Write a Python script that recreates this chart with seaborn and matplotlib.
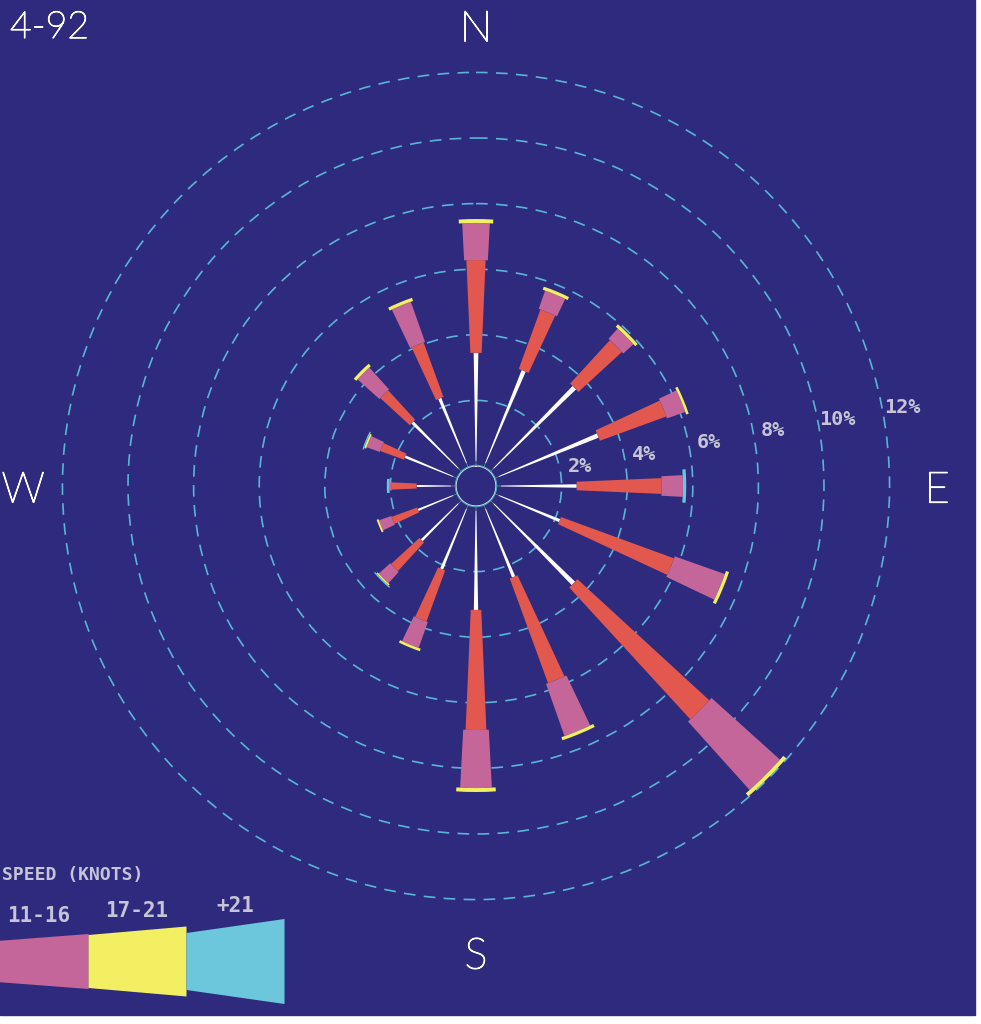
import numpy as np
import matplotlib.pyplot as plt
import matplotlib.patheffects as pe
from matplotlib.patches import Rectangle
from matplotlib.transforms import offset_copy
import seaborn as sns

# wind rose, frequency (%) per speed class for 16 compass points
directions = ['N', 'NNE', 'NE', 'ENE', 'E', 'ESE', 'SE', 'SSE',
              'S', 'SSW', 'SW', 'WSW', 'W', 'WNW', 'NW', 'NNW']
speed_1_3 = [0.15, 0.15, 0.15, 0.15, 0.15, 0.15, 0.15, 0.15,
             0.15, 0.15, 0.15, 0.15, 0.15, 0.15, 0.15, 0.15]
speed_4_6 = [3.30, 3.04, 3.48, 3.26, 2.31, 2.00, 3.44, 2.24,
             3.02, 1.98, 1.58, 1.15, 1.05, 1.58, 1.98, 2.13]
speed_7_10 = [2.83, 1.93, 1.80, 2.16, 2.59, 3.67, 5.46, 3.40,
              3.66, 1.66, 1.18, 0.83, 0.76, 0.77, 1.22, 1.77]
speed_11_16 = [1.13, 0.59, 0.42, 0.59, 0.65, 1.62, 2.81, 1.69,
               1.77, 0.84, 0.47, 0.40, 0.07, 0.43, 0.90, 1.30]
speed_17_21 = [0.12, 0.10, 0.10, 0.08, 0.00, 0.10, 0.12, 0.10,
               0.12, 0.08, 0.05, 0.06, 0.00, 0.06, 0.10, 0.10]
speed_21_up = [0.00, 0.00, 0.00, 0.00, 0.10, 0.00, 0.00, 0.00,
               0.00, 0.00, 0.04, 0.00, 0.08, 0.04, 0.00, 0.00]

speed_classes = ['1-3', '4-6', '7-10', '11-16', '17-21', '+21']
ring_levels = [2, 4, 6, 8, 10, 12]
cardinals = ['N', 'E', 'S', 'W']

NAVY = '#2e2b7f'
RING = '#5ab4d4'
LABEL_GREY = '#c6c4d6'
class_colors = ['#7fd07a', '#ffffff', '#e2574e', '#c46699', '#f2ef62', '#6cc6dc']
class_widths = [0.02, 0.035, 0.085, 0.105, 0.13, 0.16]  # radians

sns.set_style('dark', {'axes.facecolor': NAVY, 'figure.facecolor': 'white'})
plt.rcParams['font.family'] = ['DejaVu Sans']

fig = plt.figure(figsize=(9.81, 10.24), dpi=100)
fig.patches.append(Rectangle((0, 9 / 1024), 975 / 981, 1 - 9 / 1024,
                             transform=fig.transFigure, color=NAVY, zorder=-10))

# polar axes centred on the calm circle
cx, cy, R = 476 / 981, 1 - 486 / 1024, 472.6
ax = fig.add_axes([cx - R / 981, cy - R / 1024, 2 * R / 981, 2 * R / 1024], projection='polar')
ax.set_facecolor('none')
ax.set_theta_zero_location('N')
ax.set_theta_direction(-1)
ax.set_ylim(0, 13.8)
ax.set_rorigin(-0.61)

theta = np.deg2rad(np.arange(len(directions)) * 22.5)
series = [speed_1_3, speed_4_6, speed_7_10, speed_11_16, speed_17_21, speed_21_up]
bottom = np.zeros(len(directions))
for vals, color, width in zip(series, class_colors, class_widths):
    vals = np.array(vals)
    ax.bar(theta, vals, width=width, bottom=bottom, color=color, linewidth=0, zorder=3)
    bottom += vals

# calm circle
circ_t = np.linspace(0, 2 * np.pi, 300)
ax.plot(circ_t, np.zeros_like(circ_t), color='#4aa6b6', lw=1.8, zorder=4)

ax.set_xticks([])
ax.set_yticks(ring_levels)
ax.set_yticklabels([])
ax.xaxis.grid(False)
ax.yaxis.grid(True, color=RING, linestyle=(0, (7, 5)), linewidth=1.2)
for sp in ax.spines.values():
    sp.set_visible(False)

for lv in ring_levels:
    ax.text(np.deg2rad(79.5), lv + 0.6, f'{lv}%', color=LABEL_GREY, fontsize=14.5,
            fontweight='bold', family='DejaVu Sans Mono', ha='center', va='center')

thin = [pe.withStroke(linewidth=0.9, foreground='white')]
down = offset_copy(ax.transData, fig=fig, y=-5, units='dots')
for i, (lab, rr) in enumerate(zip(cardinals, [13.45, 13.45, 13.6, 13.2])):
    ax.text(np.deg2rad(i * 90), rr, lab, color='white', fontsize=31, transform=down,
            fontweight='light', family=['Lato', 'DejaVu Sans'], ha='center', va='center',
            path_effects=thin)

fig.text(10 / 981, 1 - 28 / 1024, '4-92', color='white', fontsize=27,
         fontweight='light', family=['Lato', 'DejaVu Sans'], ha='left', va='center',
         path_effects=thin)

# speed legend (tapered key), left part falls off the page
leg = fig.add_axes([0, 1 - 1011 / 1024, 290 / 981, 100 / 1024])
x0 = 3.102
leg.set_xlim(x0, x0 + 290 / 98)
leg.set_ylim(-50, 50)
leg.axis('off')
leg.patch.set_alpha(0)
half = [(4, 8), (8, 13), (13, 20), (20, 27.5), (26.5, 35), (28.5, 42.5)]
for i, (lab, color, (h0, h1)) in enumerate(zip(speed_classes, class_colors, half)):
    xs = np.array([i, i + 1])
    hs = np.array([h0, h1])
    leg.fill_between(xs, -hs, hs, color=color, linewidth=0, clip_on=False)
    if i + 0.5 > x0 + 0.3:
        leg.text(i + 0.5, 45 + (i - 3) * 5, lab, color=LABEL_GREY, fontsize=15,
                 fontweight='bold', family='DejaVu Sans Mono', ha='center', va='center')
leg.text(x0 + 2 / 98, 86, 'SPEED (KNOTS)', color=LABEL_GREY, fontsize=13,
         fontweight='bold', family='DejaVu Sans Mono', ha='left', va='center', clip_on=False)

fig.savefig('out.png', dpi=100, facecolor=fig.get_facecolor())
